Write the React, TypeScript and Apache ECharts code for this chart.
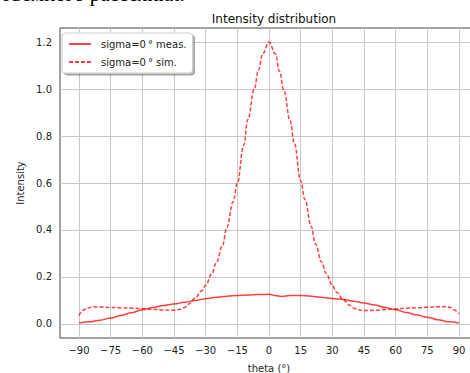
import React, { useEffect, useRef } from "react";
import * as echarts from "echarts";

const xTicks = [-90, -75, -60, -45, -30, -15, 0, 15, 30, 45, 60, 75, 90];
const yTicks = [0, 0.2, 0.4, 0.6, 0.8, 1.0, 1.2];

const measTheta = [-90, -85, -80, -75, -70, -65, -60, -55, -50, -45, -40, -35, -30, -25, -20, -15, -10, -5, 0, 3, 6, 10, 15, 20, 25, 28, 30, 35, 40, 45, 50, 55, 60, 65, 70, 75, 80, 85, 90];
const measValues = [0.004, 0.009, 0.016, 0.025, 0.036, 0.048, 0.06, 0.07, 0.078, 0.085, 0.092, 0.1, 0.107, 0.113, 0.118, 0.121, 0.123, 0.125, 0.126, 0.121, 0.117, 0.121, 0.121, 0.118, 0.113, 0.11, 0.108, 0.104, 0.097, 0.089, 0.08, 0.07, 0.06, 0.049, 0.038, 0.028, 0.018, 0.009, 0.004];

const simTheta = [-90, -88, -86, -83, -80, -75, -70, -65, -60, -55, -50, -45, -42, -40, -38, -35, -32, -30, -27, -25, -22, -20, -17, -15, -12, -10, -7, -5, -3, 0, 3, 5, 7, 10, 12, 15, 17, 20, 22, 25, 27, 30, 32, 35, 38, 40, 42, 45, 50, 55, 60, 65, 70, 75, 80, 84, 86, 88, 90];
const simValues = [0.035, 0.058, 0.068, 0.073, 0.072, 0.07, 0.069, 0.067, 0.065, 0.062, 0.059, 0.058, 0.062, 0.07, 0.085, 0.11, 0.14, 0.165, 0.215, 0.26, 0.335, 0.41, 0.52, 0.6, 0.76, 0.87, 1.0, 1.08, 1.15, 1.2, 1.15, 1.075, 0.995, 0.865, 0.77, 0.61, 0.53, 0.415, 0.34, 0.262, 0.215, 0.165, 0.135, 0.105, 0.08, 0.068, 0.06, 0.057, 0.058, 0.061, 0.064, 0.067, 0.069, 0.071, 0.073, 0.074, 0.07, 0.058, 0.042];

const seriesNames = ["sigma=0\u2009° meas.", "sigma=0\u2009° sim."];

const FONT = "DejaVu Sans";

export default function App() {
  const ref = useRef<HTMLDivElement>(null);
  useEffect(() => {
    document.body.style.margin = "0";
    const chart = echarts.init(ref.current!, null, { renderer: "svg" });
    const lineColor = "rgba(255,0,0,0.75)";
    chart.setOption({
      animation: false,
      backgroundColor: "#ffffff",
      title: {
        text: "Intensity distribution",
        left: 269,
        textAlign: "center",
        top: 8,
        textStyle: { fontFamily: FONT, fontSize: 12, fontWeight: "normal", color: "#111" },
      },
      graphic: [
        {
          type: "text",
          left: -10,
          top: -17,
          style: {
            text: "объемного рассеяния.",
            font: "21px 'Liberation Serif'",
            fill: "#000",
          },
        },
      ],
      legend: {
        orient: "vertical",
        left: 62,
        top: 33,
        padding: [6, 6, 6, 6],
        itemWidth: 22,
        itemHeight: 11,
        itemGap: 8,
        backgroundColor: "#ffffff",
        borderColor: "#cccccc",
        borderWidth: 1,
        borderRadius: 3,
        shadowColor: "rgba(0,0,0,0.35)",
        shadowOffsetX: 2,
        shadowOffsetY: 2,
        shadowBlur: 0,
        itemStyle: { opacity: 0 },
        textStyle: { fontFamily: FONT, fontSize: 10, color: "#222", padding: [0, 0, 0, 5] },
        data: seriesNames,
      },
      grid: {
        left: 60,
        top: 28,
        width: 418,
        height: 310,
        outerBoundsMode: "none",
        containLabel: false,
        show: true,
        borderColor: "#444",
        borderWidth: 1,
        backgroundColor: "transparent",
      },
      xAxis: {
        type: "value",
        min: -99,
        max: 99,
        name: "theta (°)",
        nameLocation: "middle",
        nameGap: 25,
        nameTextStyle: { fontFamily: FONT, fontSize: 10, color: "#222" },
        axisLine: { show: false },
        axisTick: { show: true, inside: false, length: 4, customValues: xTicks, lineStyle: { color: "#444" } },
        axisLabel: {
          customValues: xTicks,
          margin: 7,
          fontFamily: FONT,
          fontSize: 10,
          color: "#222",
          formatter: (v: number) => String(v).replace("-", "\u2212"),
        },
        splitLine: { show: false },
      },
      yAxis: {
        type: "value",
        min: -0.06,
        max: 1.26,
        name: "Intensity",
        nameLocation: "middle",
        nameGap: 28,
        nameTextStyle: { fontFamily: FONT, fontSize: 10, color: "#222" },
        axisLine: { show: false },
        axisTick: { show: true, inside: false, length: 4, customValues: yTicks, lineStyle: { color: "#444" } },
        axisLabel: {
          customValues: yTicks,
          margin: 8,
          fontFamily: FONT,
          fontSize: 10,
          color: "#222",
          formatter: (v: number) => v.toFixed(1),
        },
        splitLine: { show: false },
      },
      series: [
        {
          name: "gridlines",
          type: "line",
          data: [],
          z: 1,
          silent: true,
          markLine: {
            silent: true,
            symbol: "none",
            z: 1,
            label: { show: false },
            lineStyle: { color: "#c8c8c8", width: 1, type: "solid" },
            emphasis: { disabled: true },
            data: [
              ...xTicks.map((v) => ({ xAxis: v })),
              ...yTicks.map((v) => ({ yAxis: v })),
            ],
          },
        },
        {
          name: seriesNames[0],
          type: "line",
          symbol: "none",
          smooth: 0.4,
          smoothMonotone: "x",
          z: 3,
          data: measTheta.map((t, i) => [t, measValues[i]]),
          lineStyle: { color: lineColor, width: 1.5 },
          itemStyle: { color: lineColor },
        },
        {
          name: seriesNames[1],
          type: "line",
          symbol: "none",
          smooth: 0.4,
          smoothMonotone: "x",
          z: 3,
          data: simTheta.map((t, i) => [t, simValues[i]]),
          lineStyle: { color: lineColor, width: 1.5, type: [4, 2] },
          itemStyle: { color: lineColor },
        },
      ],
    });
    return () => chart.dispose();
  }, []);
  return <div ref={ref} style={{ width: 470, height: 373 }} />;
}
